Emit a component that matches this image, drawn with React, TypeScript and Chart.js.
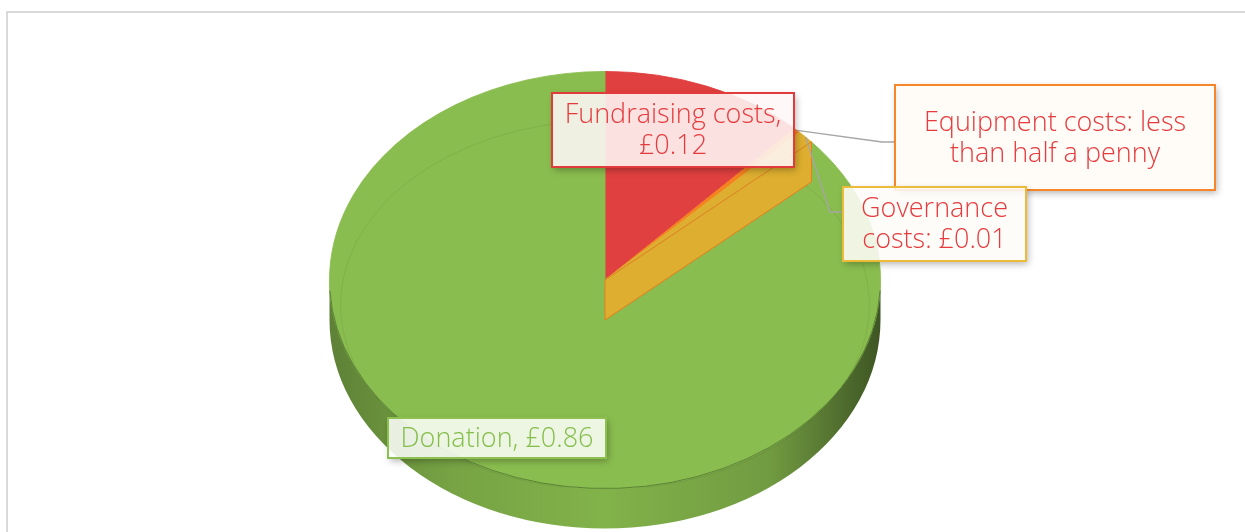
import React, { useEffect, useRef } from "react";
import { Chart, registerables } from "chart.js";

Chart.register(...registerables);

// ---------- data ----------
const categories = ["Fundraising costs", "Equipment costs", "Governance costs", "Donation"];
const values = [0.12, 0.004, 0.01, 0.86];
const labelLines = [
  ["Fundraising costs,", "£0.12"],
  ["Equipment costs: less", "than half a penny"],
  ["Governance", "costs: £0.01"],
  ["Donation, £0.86"],
];

// ---------- style ----------
const sliceColors = ["#E0403F", "#F6821F", "#DDAE2F", "#8ABD4F"];
const labelBorderColors = ["#E23B3B", "#F7862A", "#ECBC38", "#8CC152"];
const labelTextColors = ["#E53B3E", "#E53B3E", "#E53B3E", "#84BE4A"];
// label boxes: centre offset from the pie centre and size, in px
const labelBoxes = [
  { dx: 68, dy: -150, w: 242, h: 74 },
  { dx: 450, dy: -142.5, w: 320, h: 105 },
  { dx: 329.5, dy: -56, w: 183, h: 74 },
  { dx: -108, dy: 158, w: 218, h: 40 },
];
// leader lines: slice index, vertical offset of the attach point from the box centre
const leaders = [
  { index: 1, dy: 4.5 },
  { index: 2, dy: -12 },
];
const TILT = 0.757;
const DEPTH = 40;
const WALL_EDGE_INDEX = 2;
const FONT = "300 27px 'Open Sans', 'DejaVu Sans', sans-serif";

function rgb(hex: string) {
  const n = parseInt(hex.slice(1), 16);
  return [(n >> 16) & 255, (n >> 8) & 255, n & 255];
}
function shade(hex: string, f: number) {
  const [r, g, b] = rgb(hex);
  return `rgb(${Math.round(r * f)},${Math.round(g * f)},${Math.round(b * f)})`;
}
function tint(hex: string, t: number, a: number) {
  const [r, g, b] = rgb(hex);
  const m = (c: number) => Math.round(255 + (c - 255) * t);
  return `rgba(${m(r)},${m(g)},${m(b)},${a})`;
}

function geom(chart: any) {
  const arcs = chart.getDatasetMeta(0).data as any[];
  const a0 = arcs[0];
  const cx = a0.x as number;
  const cy = a0.y as number;
  const R = a0.outerRadius as number;
  return { arcs, cx, cy, R, ry: R * TILT };
}

const pie3d = {
  id: "pie3d",
  beforeDatasetsDraw(chart: any) {
    const { arcs, cx, cy, R, ry } = geom(chart);
    const ctx = chart.ctx as CanvasRenderingContext2D;
    ctx.save();
    arcs.forEach((arc, i) => {
      const s = Math.max(arc.startAngle, 0);
      const e = Math.min(arc.endAngle, Math.PI);
      if (e <= s) return;
      const base = sliceColors[i];
      const g = ctx.createLinearGradient(cx - R, 0, cx + R, 0);
      g.addColorStop(0, shade(base, 0.68));
      g.addColorStop(0.22, shade(base, 0.86));
      g.addColorStop(0.5, shade(base, 0.94));
      g.addColorStop(0.8, shade(base, 0.82));
      g.addColorStop(1, shade(base, 0.45));
      ctx.beginPath();
      ctx.ellipse(cx, cy, R, ry, 0, s, e);
      ctx.ellipse(cx, cy + DEPTH, R, ry, 0, e, s, true);
      ctx.closePath();
      ctx.fillStyle = g;
      ctx.fill();
    });
    ctx.restore();
    ctx.save();
    ctx.translate(cx, cy);
    ctx.scale(1, TILT);
    ctx.translate(-cx, -cy);
  },
  afterDatasetsDraw(chart: any) {
    const ctx = chart.ctx as CanvasRenderingContext2D;
    ctx.restore();
    const { arcs, cx, cy, R, ry } = geom(chart);
    ctx.save();
    // front edge line between top face and wall
    ctx.beginPath();
    ctx.ellipse(cx, cy, R, ry, 0, 0.05, Math.PI - 0.05);
    ctx.strokeStyle = "rgba(50,80,25,0.55)";
    ctx.lineWidth = 1;
    ctx.stroke();
    // faint bevel line
    ctx.beginPath();
    ctx.ellipse(cx, cy + 25, R - 11, ry - 24, 0, Math.PI * 0.55, Math.PI * 2.45);
    ctx.strokeStyle = "rgba(60,90,30,0.12)";
    ctx.stroke();
    // radial wall of the slice edge facing the viewer
    const arc = arcs[WALL_EDGE_INDEX];
    const a = arc.endAngle;
    const px = cx + R * Math.cos(a);
    const py = cy + ry * Math.sin(a);
    ctx.beginPath();
    ctx.moveTo(cx, cy);
    ctx.lineTo(px, py);
    ctx.lineTo(px, py + DEPTH);
    ctx.lineTo(cx, cy + DEPTH);
    ctx.closePath();
    ctx.fillStyle = sliceColors[WALL_EDGE_INDEX];
    ctx.fill();
    ctx.strokeStyle = shade(sliceColors[1], 0.95);
    ctx.lineWidth = 1;
    ctx.stroke();
    ctx.restore();
  },
  afterDraw(chart: any) {
    const ctx = chart.ctx as CanvasRenderingContext2D;
    const { arcs, cx, cy, R, ry } = geom(chart);
    ctx.save();
    // leader lines
    ctx.strokeStyle = "#A6A6A6";
    ctx.lineWidth = 1.3;
    leaders.forEach((l) => {
      const arc = arcs[l.index];
      const mid = (arc.startAngle + arc.endAngle) / 2;
      const sx = cx + R * Math.cos(mid);
      const sy = cy + ry * Math.sin(mid);
      const b = labelBoxes[l.index];
      const bx = cx + b.dx - b.w / 2;
      const by = cy + b.dy + l.dy;
      ctx.beginPath();
      ctx.moveTo(sx, sy);
      ctx.lineTo(bx - 13, by);
      ctx.lineTo(bx, by);
      ctx.stroke();
    });
    // label boxes
    labelBoxes.forEach((b, i) => {
      const x = cx + b.dx - b.w / 2;
      const y = cy + b.dy - b.h / 2;
      // shadow only outside the box
      ctx.save();
      ctx.beginPath();
      ctx.rect(0, 0, chart.width, chart.height);
      ctx.rect(x, y, b.w, b.h);
      ctx.clip("evenodd");
      ctx.shadowColor = "rgba(0,0,0,0.3)";
      ctx.shadowBlur = 7;
      ctx.shadowOffsetX = 2;
      ctx.shadowOffsetY = 3;
      ctx.fillStyle = "#ffffff";
      ctx.fillRect(x, y, b.w, b.h);
      ctx.restore();
      ctx.fillStyle = tint(labelBorderColors[i], 0.04, 0.88);
      ctx.fillRect(x, y, b.w, b.h);
      ctx.strokeStyle = labelBorderColors[i];
      ctx.lineWidth = 2;
      ctx.strokeRect(x, y, b.w, b.h);
      ctx.fillStyle = labelTextColors[i];
      ctx.font = FONT;
      ctx.textAlign = "center";
      ctx.textBaseline = "middle";
      const lines = labelLines[i];
      const lh = 31;
      lines.forEach((t, k) => {
        ctx.fillText(t, cx + b.dx, cy + b.dy + (k - (lines.length - 1) / 2) * lh + 1);
      });
    });
    ctx.restore();
  },
};

export default function App() {
  const ref = useRef<HTMLCanvasElement>(null);
  useEffect(() => {
    document.body.style.margin = "0";
    const chart = new Chart(ref.current!, {
      type: "pie",
      data: {
        labels: categories,
        datasets: [
          {
            data: values,
            backgroundColor: sliceColors,
            borderColor: sliceColors,
            borderWidth: 1,
          },
        ],
      },
      options: {
        responsive: false,
        animation: false,
        rotation: 0,
        layout: { padding: { left: 329, right: 364, top: 4, bottom: 44 } },
        plugins: {
          legend: { display: false },
          tooltip: { enabled: false },
        },
      },
      plugins: [pie3d],
    });
    return () => chart.destroy();
  }, []);
  return (
    <div
      style={{
        position: "fixed",
        left: 0,
        top: 0,
        width: 1245,
        height: 532,
        overflow: "hidden",
        background: "#ffffff",
      }}
    >
      <div
        style={{
          position: "absolute",
          left: 6,
          top: 11,
          width: 1300,
          height: 600,
          border: "2px solid #D9D9D9",
          boxSizing: "border-box",
        }}
      />
      <canvas
        ref={ref}
        width={1245}
        height={600}
        style={{ position: "absolute", left: 0, top: 0, width: 1245, height: 600 }}
      />
    </div>
  );
}
